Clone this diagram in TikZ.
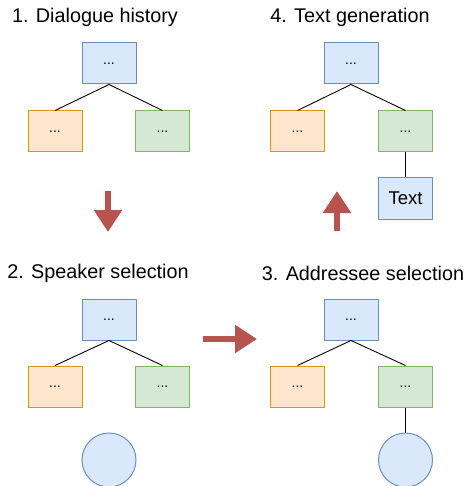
\documentclass[tikz,border=0pt]{standalone}
\usepackage{fontspec}
\setmainfont{Liberation Sans}
\usetikzlibrary{arrows.meta}
\definecolor{bfill}{HTML}{DAE8FC}\definecolor{bdraw}{HTML}{6C8EBF}
\definecolor{ofill}{HTML}{FFE6CC}\definecolor{odraw}{HTML}{D79B00}
\definecolor{gfill}{HTML}{D5E8D4}\definecolor{gdraw}{HTML}{82B366}
\definecolor{redarrow}{HTML}{B85450}
\begin{document}
\begin{tikzpicture}[x=1pt,y=-1pt,
  box/.style={rectangle,minimum width=54pt,minimum height=41pt,inner sep=0pt,line width=1pt,font=\fontsize{14}{14}\selectfont},
  bbox/.style={box,fill=bfill,draw=bdraw},
  obox/.style={box,fill=ofill,draw=odraw},
  gbox/.style={box,fill=gfill,draw=gdraw},
  circ/.style={circle,minimum size=54pt,inner sep=0pt,fill=bfill,draw=bdraw,line width=1pt},
  title/.style={font=\fontsize{19.8}{20}\selectfont,inner sep=0pt},
  link/.style={draw=black,line width=0.9pt},
  bigarrow/.style={draw=redarrow,line width=6pt,-{Triangle[width=27pt,length=22pt]},fill=redarrow}]
\useasboundingbox (0,0) rectangle (468,486);
% panel 1
\node[title] (t1) at (95,17) {1. Dialogue history};
\node[bbox] (p1r) at (109,63.5) {...};
\node[obox] (p1a) at (55,131.5) {...};
\node[gbox] (p1b) at (162.5,131.5) {...};
\draw[link] (p1r.south) -- (p1a.north);
\draw[link] (p1r.south) -- (p1b.north);
% panel 4
\node[title] (t4) at (350,17) {4. Text generation};
\node[bbox] (p4r) at (351,63.5) {...};
\node[obox] (p4a) at (297.5,131.5) {...};
\node[gbox] (p4b) at (405.5,131.5) {...};
\node[bbox,font=\fontsize{18.5}{19}\selectfont] (p4t) at (405.5,198.5) {Text};
\draw[link] (p4r.south) -- (p4a.north);
\draw[link] (p4r.south) -- (p4b.north);
\draw[link] (p4b.south) -- (p4t.north);
% panel 2
\node[title] (t2) at (98,273) {2. Speaker selection};
\node[bbox] (p2r) at (109,319.5) {...};
\node[obox] (p2a) at (55,386.5) {...};
\node[gbox] (p2b) at (162.5,386.5) {...};
\node[circ] (p2c) at (109,460) {};
\draw[link] (p2r.south) -- (p2a.north);
\draw[link] (p2r.south) -- (p2b.north);
% panel 3
\node[title] (t3) at (363,273) {3. Addressee selection};
\node[bbox] (p3r) at (351,319.5) {...};
\node[obox] (p3a) at (297.5,386.5) {...};
\node[gbox] (p3b) at (405.5,386.5) {...};
\node[circ] (p3c) at (405.5,460) {};
\draw[link] (p3r.south) -- (p3a.north);
\draw[link] (p3r.south) -- (p3b.north);
\draw[link] (p3b.south) -- (p3c.north);
% arrows
\coordinate (d1) at (108,191); \coordinate (d2) at (108,232);
\coordinate (r1) at (203,339); \coordinate (r2) at (257,339);
\coordinate (u1) at (337,231); \coordinate (u2) at (337,191);
\draw[bigarrow] (d1) -- (d2);
\draw[bigarrow] (r1) -- (r2);
\draw[bigarrow] (u1) -- (u2);
\end{tikzpicture}
\end{document}
